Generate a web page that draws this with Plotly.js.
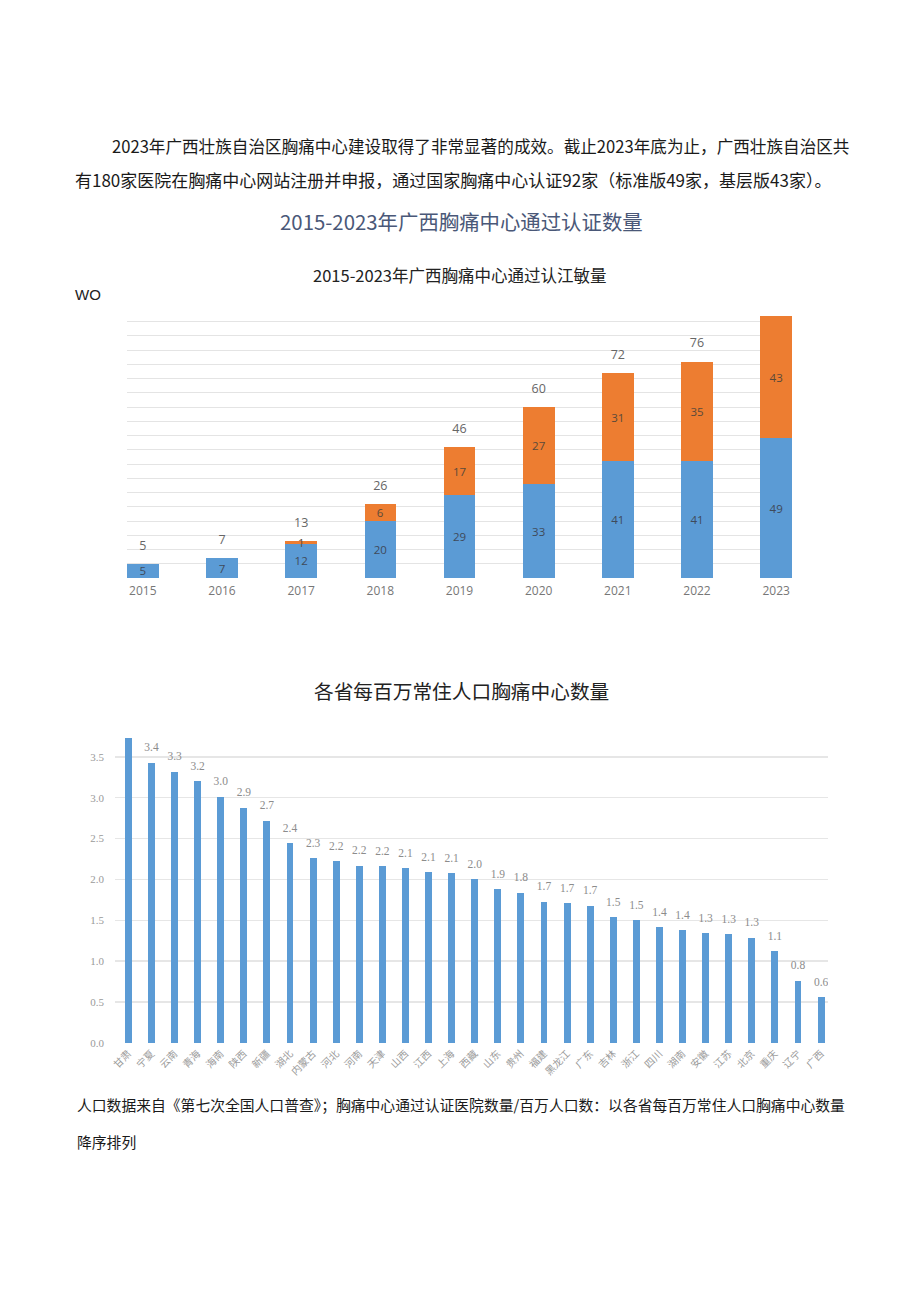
<!DOCTYPE html>
<html>
<head>
<meta charset="utf-8">
<script src="https://cdn.plot.ly/plotly-3.0.1.min.js"></script>
<style>
html,body{margin:0;padding:0;background:#fff;}
#chart{width:920px;height:1301px;}
</style>
</head>
<body>
<div id="chart"></div>
<script>
// ---- Data: chart 1 ----
const years = ['2015','2016','2017','2018','2019','2020','2021','2022','2023'];
const standardCenters = [5, 7, 12, 20, 29, 33, 41, 41, 49];       // blue
const basicCenters = [null, null, 1, 6, 17, 27, 31, 35, 43];      // orange
const totalCenters = years.map((_, i) => (standardCenters[i] || 0) + (basicCenters[i] || 0));

// ---- Data: chart 2 ----
const provinces = ['甘肃','宁夏','云南','青海','海南','陕西','新疆','湖北','内蒙古','河北','河南','天津','山西','江西','上海','西藏','山东','贵州','福建','黑龙江','广东','吉林','浙江','四川','湖南','安徽','江苏','北京','重庆','辽宁','广西'];
const perMillion = [3.9, 3.43, 3.32, 3.20, 3.01, 2.88, 2.72, 2.44, 2.26, 2.22, 2.17, 2.16, 2.14, 2.09, 2.08, 2.00, 1.88, 1.84, 1.73, 1.71, 1.68, 1.54, 1.50, 1.42, 1.38, 1.34, 1.33, 1.29, 1.12, 0.76, 0.56];
const perMillionTicks = [0, 0.5, 1.0, 1.5, 2.0, 2.5, 3.0, 3.5];

// ---- Texts ----
const para1 = '2023年广西壮族自治区胸痛中心建设取得了非常显著的成效。截止2023年底为止，广西壮族自治区共';
const para2 = '有180家医院在胸痛中心网站注册并申报，通过国家胸痛中心认证92家（标准版49家，基层版43家）。';
const heading1 = '2015-2023年广西胸痛中心通过认证数量';
const chart1Title = '2015-2023年广西胸痛中心通过认江敏量';
const chart2Title = '各省每百万常住人口胸痛中心数量';
const note1 = '人口数据来自《第七次全国人口普查》；胸痛中心通过认证医院数量/百万人口数：以各省每百万常住人口胸痛中心数量';
const note2 = '降序排列';

const W = 920, H = 1301;
const fx = p => p / W;
const fy = p => 1 - p / H;

const CJK = '"Noto Sans CJK SC", "Liberation Sans", sans-serif';
const SERIF = '"Liberation Serif", "Noto Sans CJK SC", serif';

const traces = [
  {
    type: 'bar', x: years, y: standardCenters, xaxis: 'x', yaxis: 'y',
    marker: {color: '#5b9bd5'}, width: 0.4,
    text: standardCenters.map(String), textposition: 'inside', insidetextanchor: 'middle',
    constraintext: 'none', textangle: 0,
    textfont: {family: '"Open Sans", sans-serif', size: 11.5, color: '#3f4a5a'},
    hoverinfo: 'skip'
  },
  {
    type: 'bar', x: years, y: basicCenters, xaxis: 'x', yaxis: 'y',
    marker: {color: '#ed7d31'}, width: 0.4,
    text: basicCenters.map(v => v == null ? '' : String(v)), textposition: 'inside', insidetextanchor: 'middle',
    constraintext: 'none', textangle: 0,
    textfont: {family: '"Open Sans", sans-serif', size: 11.5, color: '#5a4a3a'},
    hoverinfo: 'skip'
  },
  {
    type: 'scatter', mode: 'markers+text', x: years, y: totalCenters, xaxis: 'x', yaxis: 'y',
    marker: {size: 16, color: 'rgba(0,0,0,0)'},
    text: totalCenters.map(String), textposition: 'top center',
    textfont: {family: '"Open Sans", sans-serif', size: 12.5, color: '#666666'},
    cliponaxis: true, hoverinfo: 'skip'
  },
  {
    type: 'bar', x: provinces, y: perMillion, xaxis: 'x2', yaxis: 'y2',
    marker: {color: '#5b9bd5'}, width: 0.3,
    hoverinfo: 'skip'
  },
  {
    type: 'scatter', mode: 'markers+text', x: provinces, y: perMillion, xaxis: 'x2', yaxis: 'y2',
    marker: {size: 12, color: 'rgba(0,0,0,0)'},
    texttemplate: '%{y:.1f}', textposition: 'top center', cliponaxis: true,
    textfont: {family: SERIF, size: 11.5, color: '#8c8c8c'},
    hoverinfo: 'skip'
  }
];

const layout = {
  width: W, height: H,
  margin: {l: 0, r: 0, t: 0, b: 0},
  paper_bgcolor: '#ffffff', plot_bgcolor: '#ffffff',
  showlegend: false,
  barmode: 'stack',
  xaxis: {
    domain: [fx(127), fx(792)], anchor: 'y',
    range: [-0.2, 8.2], type: 'category',
    showgrid: false, zeroline: false, showline: false, ticks: '',
    tickfont: {family: '"Open Sans", sans-serif', size: 12, color: '#777777'},
    ticklabelstandoff: 4
  },
  yaxis: {
    domain: [fy(578), fy(316)], anchor: 'x',
    range: [0, 92], dtick: 5, tick0: 0,
    showgrid: true, gridcolor: '#e4e4e4', gridwidth: 1,
    zeroline: false, showline: false, showticklabels: false, ticks: ''
  },
  xaxis2: {
    domain: [fx(115), fx(828)], anchor: 'y2',
    range: [-0.58, 30.3], type: 'category',
    showgrid: false, zeroline: false, showline: false, ticks: '',
    tickangle: -45,
    tickfont: {family: CJK, size: 10, color: '#9a9a9a'},
    ticklabelstandoff: 2
  },
  yaxis2: {
    domain: [fy(1043), fy(738)], anchor: 'x2',
    range: [0, 3.73], tickvals: perMillionTicks, tickformat: '.1f',
    showgrid: true, gridcolor: '#e6e6e6', gridwidth: 1.5,
    zeroline: false, showline: false, ticks: '',
    tickfont: {family: SERIF, size: 11, color: '#9a9a9a'},
    ticklabelstandoff: 10
  },
  annotations: [
    {text: para1, x: fx(110), y: fy(146), xanchor: 'left', yanchor: 'middle',
     font: {family: CJK, size: 16.6, color: '#1a1a1a'}},
    {text: para2, x: fx(73), y: fy(180), xanchor: 'left', yanchor: 'middle',
     font: {family: CJK, size: 17, color: '#1a1a1a'}},
    {text: heading1, x: fx(461), y: fy(221), xanchor: 'center', yanchor: 'middle',
     font: {family: CJK, size: 20.4, color: '#4a5878'}},
    {text: chart1Title, x: fx(460), y: fy(275), xanchor: 'center', yanchor: 'middle',
     font: {family: CJK, size: 16.5, color: '#222222'}},
    {text: 'WO', x: fx(73), y: fy(295), xanchor: 'left', yanchor: 'middle',
     font: {family: '"Liberation Sans", sans-serif', size: 15, color: '#222222'}},
    {text: chart2Title, x: fx(461), y: fy(690), xanchor: 'center', yanchor: 'middle',
     font: {family: CJK, size: 19.7, color: '#222222'}},
    {text: note1, x: fx(75), y: fy(1104), xanchor: 'left', yanchor: 'middle',
     font: {family: CJK, size: 14.8, color: '#1a1a1a'}},
    {text: note2, x: fx(75), y: fy(1141), xanchor: 'left', yanchor: 'middle',
     font: {family: CJK, size: 14.8, color: '#1a1a1a'}}
  ].map(a => Object.assign({xref: 'paper', yref: 'paper', showarrow: false}, a))
};

Plotly.newPlot('chart', traces, layout, {staticPlot: true, displayModeBar: false});
</script>
</body>
</html>
